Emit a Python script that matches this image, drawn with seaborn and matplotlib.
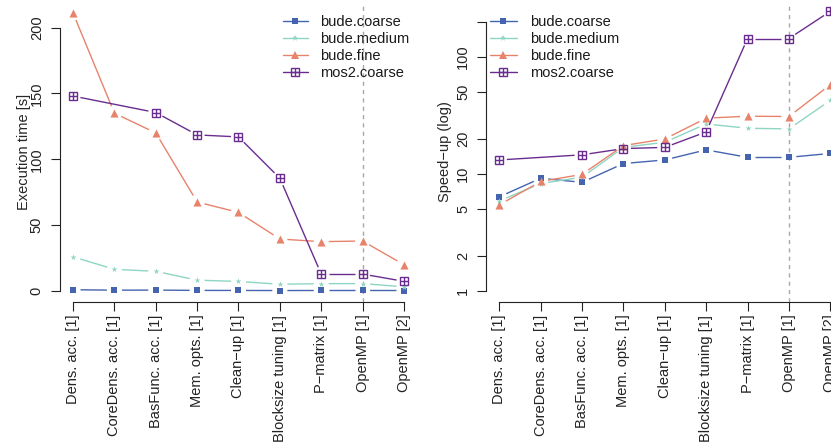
import numpy as np
import pandas as pd
import matplotlib
matplotlib.use("Agg")
import matplotlib.pyplot as plt
import seaborn as sns
from matplotlib.lines import Line2D

# ---------------- data ----------------
categories = ["Dens. acc. [1]", "CoreDens. acc. [1]", "BasFunc. acc. [1]",
              "Mem. opts. [1]", "Clean\u2212up [1]", "Blocksize tuning [1]",
              "P\u2212matrix [1]", "OpenMP [1]", "OpenMP [2]"]
series_names = ["bude.coarse", "bude.medium", "bude.fine", "mos2.coarse"]

time_bude_coarse = [1.0, 0.7, 0.75, 0.5, 0.48, 0.4, 0.45, 0.45, 0.42]
time_bude_medium = [26.0, 16.5, 15.0, 8.3, 7.3, 5.2, 5.6, 5.7, 3.2]
time_bude_fine = [211.0, 135.0, 120.0, 67.6, 59.7, 39.5, 37.5, 38.0, 20.0]
time_mos2_coarse = [148.0, np.nan, 135.5, 118.5, 117.0, 85.6, 12.9, 12.9, 7.4]

speedup_bude_coarse = [6.4, 9.2, 8.5, 12.3, 13.2, 16.1, 13.9, 13.9, 15.0]
speedup_bude_medium = [5.9, 8.3, 9.4, 16.9, 18.7, 26.8, 24.6, 24.3, 42.5]
speedup_bude_fine = [5.46, 8.65, 9.94, 17.5, 19.95, 30.0, 31.2, 31.0, 57.9]
speedup_mos2_coarse = [13.2, np.nan, 14.6, 16.5, 16.9, 22.9, 143.6, 143.6, 245.0]

time_ticks = [0, 50, 100, 150, 200]
speedup_ticks = [1, 2, 5, 10, 20, 50, 100, 200]
speedup_tick_labels = ["1", "2", "5", "10", "20", "50", "100", ""]
marked_step = "OpenMP [1]"

# ---------------- style ----------------
sns.set_style("ticks")
plt.rcParams['font.family'] = ['Liberation Sans', 'DejaVu Sans']
plt.rcParams['font.size'] = 10.5
plt.rcParams['axes.linewidth'] = 0.8
plt.rcParams['axes.edgecolor'] = '#222222'
plt.rcParams['text.color'] = '#1a1a1a'
plt.rcParams['xtick.color'] = '#222222'
plt.rcParams['ytick.color'] = '#222222'

colors = {"bude.coarse": "#4464b0", "bude.medium": "#8fd5c3",
          "bude.fine": "#e8836b", "mos2.coarse": "#6a2d8f"}

W, H = 831, 444
fig = plt.figure(figsize=(W / 100, H / 100), dpi=100)


def px_axes(left, top, right, bottom):
    return fig.add_axes([left / W, 1 - bottom / H, (right - left) / W, (bottom - top) / H])


ax1 = px_axes(59.8, 1.9, 417.2, 302.2)
ax2 = px_axes(486.1, 1.9, 843.5, 302.2)

xpos = np.arange(1, len(categories) + 1)

for ax in (ax1, ax2):
    ax.set_xlim(0.68, 9.32)
ax1.set_ylim(-8.44, 219.44)
ax2.set_yscale('log')
ax2.set_ylim(10 ** -0.094, 10 ** 2.47)


def gapped_line(ax, xs, ys, color, gap=7.5, lw=1.0, z=2):
    xs = np.asarray(xs, float)
    ys = np.asarray(ys, float)
    ok = ~np.isnan(ys)
    xs, ys = xs[ok], ys[ok]
    pts = ax.transData.transform(np.column_stack([xs, ys]))
    inv = ax.transData.inverted()
    for p, q in zip(pts[:-1], pts[1:]):
        d = q - p
        L = np.hypot(*d)
        if L <= 2 * gap:
            continue
        u = d / L
        seg = inv.transform(np.array([p + u * gap, q - u * gap]))
        ax.plot(seg[:, 0], seg[:, 1], color=color, lw=lw, zorder=z,
                solid_capstyle='butt')


def draw_series(ax, name, ys, z):
    c = colors[name]
    gapped_line(ax, xpos, ys, c, z=z)
    df = pd.DataFrame({"x": xpos, "y": ys}).dropna()
    if name == "bude.coarse":
        sns.scatterplot(data=df, x="x", y="y", marker="s", s=21, color=c,
                        linewidth=0, ax=ax, zorder=z + 1, legend=False)
    elif name == "bude.medium":
        sns.scatterplot(data=df, x="x", y="y", marker="*", s=20, color=c,
                        linewidth=0, ax=ax, zorder=z + 1, legend=False)
    elif name == "bude.fine":
        sns.scatterplot(data=df, x="x", y="y", marker="^", s=34, color=c,
                        linewidth=0, ax=ax, zorder=z + 1, legend=False)
    else:
        ax.plot(df["x"], df["y"], ls="none", marker="s", ms=5.8, mfc="none",
                mec=c, mew=1.0, zorder=z + 1)
        ax.plot(df["x"], df["y"], ls="none", marker="+", ms=5.8, mec=c,
                mew=1.0, zorder=z + 1)


time_data = [time_bude_coarse, time_bude_medium, time_bude_fine, time_mos2_coarse]
speed_data = [speedup_bude_coarse, speedup_bude_medium, speedup_bude_fine, speedup_mos2_coarse]

vx = categories.index(marked_step) + 1
for ax, data in ((ax1, time_data), (ax2, speed_data)):
    ax.axvline(vx, color="#a8a8a8", lw=1.0, ls=(0, (3, 3)), zorder=1)
    for i, (name, ys) in enumerate(zip(series_names, data)):
        draw_series(ax, name, ys, z=3 + 3 * i)

# ---------------- axes ----------------
for ax in (ax1, ax2):
    sns.despine(ax=ax)
    ax.set_xticks(xpos)
    ax.set_xticklabels(categories, rotation=90)
    ax.spines['bottom'].set_bounds(1, 9)
    ax.tick_params(axis='x', length=6.5, width=0.8, pad=2.5)
    ax.tick_params(axis='y', length=6.5, width=0.8, pad=5, labelrotation=90)
    ax.set_xlabel("")
    ax.minorticks_off()

ax1.set_yticks(time_ticks)
ax1.set_yticklabels([str(t) for t in time_ticks], va='center')
ax1.spines['left'].set_bounds(0, 200)
ax1.set_ylabel("Execution time [s]")
ax1.yaxis.set_label_coords(-0.081, 0.5)

ax2.set_yticks(speedup_ticks)
ax2.set_yticklabels(speedup_tick_labels, va='center')
ax2.yaxis.set_minor_locator(matplotlib.ticker.NullLocator())
ax2.spines['left'].set_bounds(1, 200)
ax2.set_ylabel("Speed\u2212up (log)")
ax2.yaxis.set_label_coords(-0.095, 0.5)

# ---------------- legends ----------------
def legend_handles():
    hs = [Line2D([], [], color=colors["bude.coarse"], marker="s", ms=4.3, mew=0, lw=1),
          Line2D([], [], color=colors["bude.medium"], marker="*", ms=4.5, mew=0, lw=1),
          Line2D([], [], color=colors["bude.fine"], marker="^", ms=5.3, mew=0, lw=1),
          (Line2D([], [], color=colors["mos2.coarse"], marker="s", ms=5.8, mfc="none",
                  mew=1.0, lw=1),
           Line2D([], [], color=colors["mos2.coarse"], marker="+", ms=5.8, mew=1.0, lw=0))]
    return hs


for ax, x0, hl, tp in ((ax1, 283, 1.7, 0.85), (ax2, 490, 1.85, 0.9)):
    ax.legend(legend_handles(), series_names, loc='upper left',
              bbox_to_anchor=(x0 / W, 1 - 15.0 / H), bbox_transform=fig.transFigure,
              frameon=False, borderpad=0, borderaxespad=0, handlelength=hl,
              handletextpad=tp, labelspacing=0.2, fontsize=10.5)

fig.savefig("out.png", dpi=100)
